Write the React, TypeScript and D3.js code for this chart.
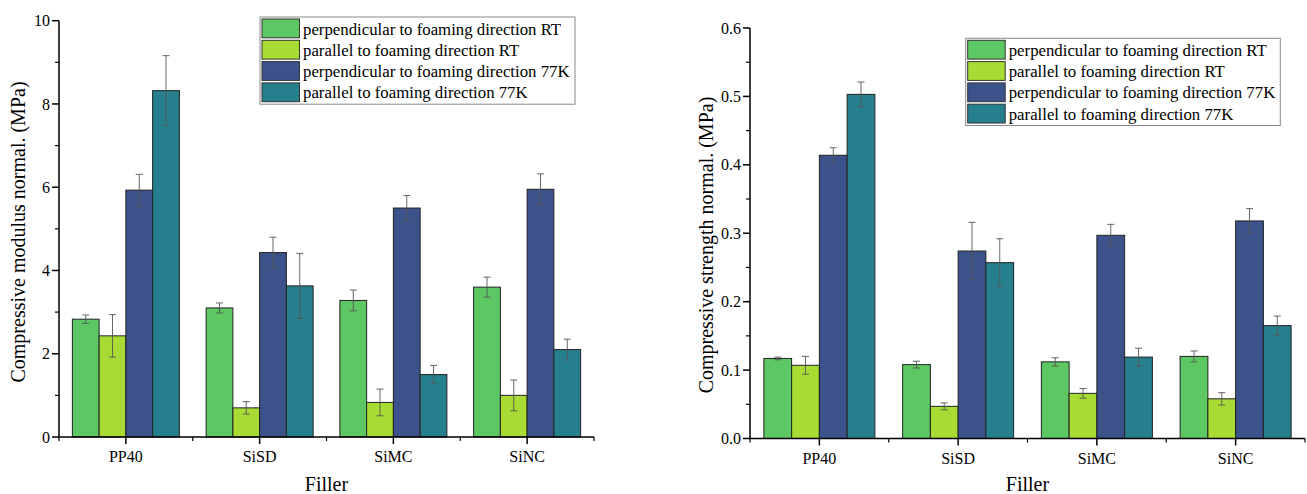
import React from "react";
import * as d3 from "d3";

const fillers = ["PP40", "SiSD", "SiMC", "SiNC"];
const seriesNames = [
  "perpendicular to foaming direction RT",
  "parallel to foaming direction RT",
  "perpendicular to foaming direction 77K",
  "parallel to foaming direction 77K",
];
const seriesColors = ["#5dc863", "#a8db34", "#3b528b", "#267f8d"];

// compressive modulus (MPa)
const modPerpRT = [2.83, 3.1, 3.28, 3.6];
const modParRT = [2.43, 0.7, 0.83, 1.0];
const modPerp77 = [5.93, 4.43, 5.5, 5.95];
const modPar77 = [8.32, 3.63, 1.5, 2.1];
const modPerpRTErr = [0.1, 0.12, 0.25, 0.24];
const modParRTErr = [0.51, 0.15, 0.32, 0.37];
const modPerp77Err = [0.38, 0.37, 0.3, 0.37];
const modPar77Err = [0.84, 0.78, 0.22, 0.25];

// compressive strength (MPa)
const strPerpRT = [0.117, 0.108, 0.112, 0.12];
const strParRT = [0.107, 0.047, 0.066, 0.058];
const strPerp77 = [0.414, 0.274, 0.297, 0.318];
const strPar77 = [0.503, 0.257, 0.119, 0.165];
const strPerpRTErr = [0.002, 0.005, 0.006, 0.008];
const strParRTErr = [0.013, 0.005, 0.007, 0.009];
const strPerp77Err = [0.011, 0.042, 0.016, 0.018];
const strPar77Err = [0.018, 0.035, 0.013, 0.014];

const modTicks = [0, 2, 4, 6, 8, 10];
const strTicks = [0, 0.1, 0.2, 0.3, 0.4, 0.5, 0.6];

const FONT = '"Liberation Serif", "Times New Roman", Times, serif';

interface PanelProps {
  left: number;
  right: number;
  top: number;
  bottom: number;
  yMax: number;
  ticks: number[];
  tickFmt: (v: number) => string;
  values: number[][];
  errors: number[][];
  yLabel: string;
  yLabelX: number;
  yLabelY: number;
  legendX: number;
  legendY: number;
  legendW: number;
}

const Panel: React.FC<PanelProps> = (p) => {
  const x = d3.scaleBand<string>().domain(fillers).range([p.left, p.right]).paddingInner(0).paddingOuter(0);
  const inner = d3
    .scaleBand<number>()
    .domain(d3.range(seriesNames.length))
    .range([0, x.bandwidth()])
    .paddingOuter(0.5)
    .paddingInner(0);
  const y = d3.scaleLinear().domain([0, p.yMax]).range([p.bottom, p.top]);
  const step = p.ticks[1] - p.ticks[0];
  const minor = d3.range(0, p.yMax, step).map((v) => v + step / 2);
  const rowH = 21.3;

  return (
    <g>
      {/* bars */}
      {fillers.map((f, i) => (
        <g key={f}>
          {p.values.map((vals, s) => {
            const bx = (x(f) ?? 0) + (inner(s) ?? 0);
            const bw = inner.bandwidth();
            return (
              <rect
                key={s}
                x={bx}
                y={y(vals[i])}
                width={bw}
                height={p.bottom - y(vals[i])}
                fill={seriesColors[s]}
                stroke="#222"
                strokeWidth={1}
              />
            );
          })}
          {p.values.map((vals, s) => {
            const cx = (x(f) ?? 0) + (inner(s) ?? 0) + inner.bandwidth() / 2;
            const e = p.errors[s][i];
            const y1 = y(vals[i] + e);
            const y2 = y(vals[i] - e);
            return (
              <g key={"e" + s} stroke="#555" strokeWidth={0.9}>
                <line x1={cx} x2={cx} y1={y1} y2={y2} />
                <line x1={cx - 3.5} x2={cx + 3.5} y1={y1} y2={y1} />
                <line x1={cx - 3.5} x2={cx + 3.5} y1={y2} y2={y2} />
              </g>
            );
          })}
        </g>
      ))}

      {/* y axis */}
      <line x1={p.left} x2={p.left} y1={p.top} y2={p.bottom} stroke="#000" strokeWidth={1.5} />
      {p.ticks.map((t) => (
        <g key={t}>
          <line x1={p.left - 7} x2={p.left} y1={y(t)} y2={y(t)} stroke="#000" strokeWidth={1.5} />
          <text x={p.left - 9} y={y(t)} dy="0.35em" textAnchor="end" fontSize={16}>
            {p.tickFmt(t)}
          </text>
        </g>
      ))}
      {minor.map((t) => (
        <line key={t} x1={p.left - 4} x2={p.left} y1={y(t)} y2={y(t)} stroke="#000" strokeWidth={1.2} />
      ))}
      <text
        transform={`translate(${p.yLabelX},${p.yLabelY}) rotate(-90)`}
        textAnchor="middle"
        dy="0.35em"
        fontSize={20}
      >
        {p.yLabel}
      </text>

      {/* x axis */}
      <line x1={p.left} x2={p.right} y1={p.bottom} y2={p.bottom} stroke="#000" strokeWidth={1.5} />
      {fillers.map((f) => {
        const cx = (x(f) ?? 0) + x.bandwidth() / 2;
        return (
          <g key={f}>
            <line x1={cx} x2={cx} y1={p.bottom} y2={p.bottom + 7} stroke="#000" strokeWidth={1.5} />
            <text x={cx} y={p.bottom + 25} textAnchor="middle" fontSize={16}>
              {f}
            </text>
          </g>
        );
      })}
      {[...fillers.map((f) => x(f) ?? 0), p.right].map((bx, i) => (
        <line key={"m" + i} x1={bx} x2={bx} y1={p.bottom} y2={p.bottom + 4} stroke="#000" strokeWidth={1.2} />
      ))}
      <text x={(p.left + p.right) / 2} y={491} textAnchor="middle" fontSize={20}>
        Filler
      </text>

      {/* legend */}
      <g transform={`translate(${p.legendX},${p.legendY})`}>
        <rect x={0} y={0} width={p.legendW} height={rowH * 4 + 2} fill="#fff" stroke="#888" strokeWidth={1} />
        {seriesNames.map((n, s) => (
          <g key={n} transform={`translate(2,${2 + s * rowH})`}>
            <rect x={0} y={0} width={37.5} height={rowH - 2.5} fill={seriesColors[s]} stroke="#333" strokeWidth={1} />
            <text x={41} y={rowH / 2 - 1} dy="0.35em" fontSize={16.8}>
              {n}
            </text>
          </g>
        ))}
      </g>
    </g>
  );
};

export default function App() {
  return (
    <svg
      width={1307}
      height={494}
      style={{ position: "absolute", left: 0, top: 0, background: "#fff", fontFamily: FONT }}
    >
      <Panel
        left={59}
        right={594}
        top={20.7}
        bottom={437}
        yMax={10}
        ticks={modTicks}
        tickFmt={(v) => String(v)}
        values={[modPerpRT, modParRT, modPerp77, modPar77]}
        errors={[modPerpRTErr, modParRTErr, modPerp77Err, modPar77Err]}
        yLabel="Compressive modulus normal. (MPa)"
        yLabelX={18}
        yLabelY={232}
        legendX={260}
        legendY={17}
        legendW={315}
      />
      <Panel
        left={750}
        right={1305}
        top={28}
        bottom={438.5}
        yMax={0.6}
        ticks={strTicks}
        tickFmt={(v) => v.toFixed(1)}
        values={[strPerpRT, strParRT, strPerp77, strPar77]}
        errors={[strPerpRTErr, strParRTErr, strPerp77Err, strPar77Err]}
        yLabel="Compressive strength normal. (MPa)"
        yLabelX={706}
        yLabelY={245}
        legendX={965.7}
        legendY={38.3}
        legendW={314.6}
      />
    </svg>
  );
}
